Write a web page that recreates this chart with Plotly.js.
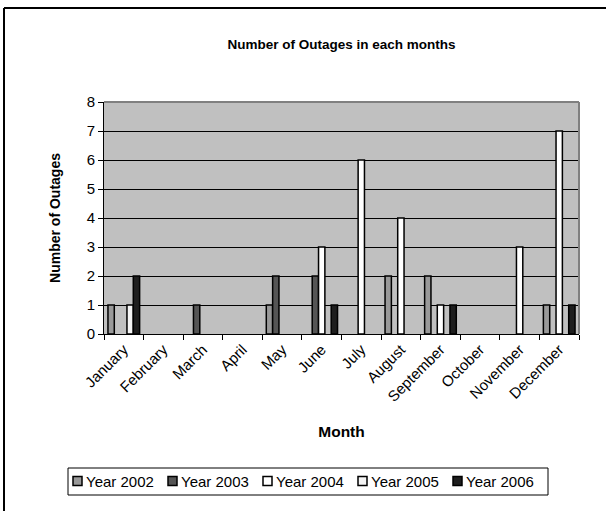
<!DOCTYPE html>
<html>
<head>
<meta charset="utf-8">
<script src="https://cdn.plot.ly/plotly-3.0.1.min.js"></script>
<style>html,body{margin:0;padding:0;background:#fff}#chart{width:606px;height:511px}</style>
</head>
<body>
<div id="chart"></div>
<script>
var months = ["January","February","March","April","May","June","July","August","September","October","November","December"];
var seriesNames = ["Year 2002","Year 2003","Year 2004","Year 2005","Year 2006"];
var y2002 = [1,0,0,0,1,0,0,2,2,0,0,1];
var y2003 = [0,0,1,0,2,2,0,0,0,0,0,0];
var y2004 = [0,0,0,0,0,3,6,4,1,0,3,7];
var y2005 = [1,0,0,0,0,0,0,0,0,0,0,0];
var y2006 = [2,0,0,0,0,1,0,0,1,0,0,1];
var seriesValues = [y2002,y2003,y2004,y2005,y2006];
var seriesColors = ["#999999","#555555","#ffffff","#f4f4f4","#1e1e1e"];

var W = 606, H = 511, L = 104, R = 579, T = 102, B = 334;
function px(x){ return (x - L) / (R - L); }
function py(y){ return (B - y) / (B - T); }

var traces = seriesNames.map(function(n,i){
  return {
    type:"bar", name:n, x:months,
    y:seriesValues[i].map(function(v){return v===0?null:v;}),
    marker:{color:seriesColors[i], line:{color:"#000", width:1.5}},
    hoverinfo:"x+y+name"
  };
});

var font = "Liberation Sans, Arial, sans-serif";
var shapes = [
  {type:"line", xref:"paper", yref:"paper", x0:0, x1:1, y0:1, y1:1, line:{color:"#808080", width:2}, layer:"above"},
  {type:"line", xref:"paper", yref:"paper", x0:1, x1:1, y0:0, y1:1, line:{color:"#808080", width:2}, layer:"above"},
  {type:"line", xref:"paper", yref:"paper", x0:px(4), x1:px(612), y0:py(8), y1:py(8), line:{color:"#000", width:2}},
  {type:"line", xref:"paper", yref:"paper", x0:px(4), x1:px(4), y0:py(8), y1:py(520), line:{color:"#000", width:2}},
  {type:"rect", xref:"paper", yref:"paper", x0:px(68), x1:px(548), y0:py(495), y1:py(468), line:{color:"#000", width:1}, fillcolor:"#fff"}
];
var annotations = [];
seriesNames.forEach(function(n,i){
  var sx = 73 + 95*i;
  shapes.push({type:"rect", xref:"paper", yref:"paper", x0:px(sx), x1:px(sx+9), y0:py(485.5), y1:py(476.5),
    fillcolor:seriesColors[i], line:{color:"#000", width:1.5}});
  annotations.push({xref:"paper", yref:"paper", x:px(sx+11), y:py(481.5), xanchor:"left", yanchor:"middle",
    text:n, showarrow:false, font:{family:font, size:15, color:"#000"}});
});

var layout = {
  width:W, height:H,
  margin:{l:L, r:W-R, t:T, b:H-B},
  paper_bgcolor:"#fff", plot_bgcolor:"#c0c0c0",
  barmode:"group", bargap:0.2, bargroupgap:0,
  font:{family:font, size:15, color:"#000"},
  title:{text:"<b>Number of Outages in each months</b>", font:{family:font, size:13.5, color:"#000"}, x:0.5, xref:"paper", y:1-44/H, yanchor:"middle"},
  xaxis:{
    type:"category", tickson:"boundaries", ticks:"outside", ticklen:5, tickcolor:"#000",
    showline:true, linecolor:"#000", linewidth:1, showgrid:false, tickangle:-45,
    tickfont:{family:font, size:15}, automargin:false,
    title:{text:"<b>Month</b>", font:{family:font, size:15.5}, standoff:22}
  },
  yaxis:{
    range:[0,8], dtick:1, ticks:"outside", ticklen:5, tickcolor:"#000",
    showline:true, linecolor:"#000", linewidth:1, showgrid:true, gridcolor:"#000", gridwidth:1,
    zeroline:false, tickfont:{family:font, size:15}, automargin:false,
    title:{text:"<b>Number of Outages</b>", font:{family:font, size:14}, standoff:22}
  },
  showlegend:false,
  shapes:shapes,
  annotations:annotations
};
Plotly.newPlot("chart", traces, layout, {displayModeBar:false, staticPlot:true});
</script>
</body>
</html>
